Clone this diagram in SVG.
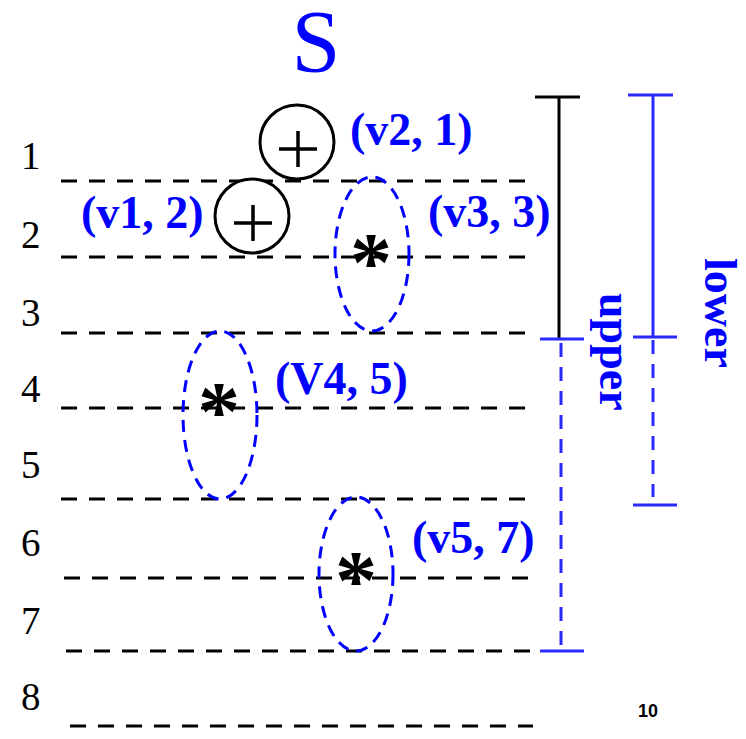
<svg xmlns="http://www.w3.org/2000/svg" width="746" height="739" viewBox="0 0 746 739">
<style>
.row{stroke:#000;stroke-width:3;stroke-dasharray:16 12;fill:none}
.ser{font-family:"Liberation Serif","Times New Roman",Times,"DejaVu Serif",serif}
.num{font-size:39px;fill:#000}
.lbl{font-size:46px;font-weight:bold;fill:#0000ff}
.ell{fill:none;stroke:#0000ff;stroke-width:3;stroke-dasharray:12 8}
.circ{fill:#fff;stroke:#000;stroke-width:3}
.plus{stroke:#000;stroke-width:3.5;fill:none}
.ast{font-size:84px;font-weight:bold;fill:#000;text-anchor:middle}
.bar{stroke:#2a2aff;stroke-width:3;fill:none}
.bard{stroke:#2a2aff;stroke-width:3;fill:none;stroke-dasharray:14 10}
</style>
<rect width="746" height="739" fill="#fff"/>
<text class="ser" x="316" y="71" font-size="88" fill="#0000ff" text-anchor="middle">S</text>
<g id="rows">
<line class="row" x1="61" y1="181" x2="527" y2="181"/>
<line class="row" x1="61" y1="257" x2="525" y2="257"/>
<line class="row" x1="61" y1="333" x2="525" y2="333"/>
<line class="row" x1="61" y1="408" x2="525" y2="408"/>
<line class="row" x1="61" y1="499" x2="525" y2="499"/>
<line class="row" x1="64" y1="578" x2="528" y2="578"/>
<line class="row" x1="66" y1="651" x2="530" y2="651"/>
<line class="row" x1="70" y1="726" x2="533" y2="726"/>
</g>
<g id="numbers" class="ser">
<text class="num" x="21" y="169">1</text>
<text class="num" x="21" y="248">2</text>
<text class="num" x="21" y="326">3</text>
<text class="num" x="21" y="402">4</text>
<text class="num" x="21" y="478">5</text>
<text class="num" x="21" y="556">6</text>
<text class="num" x="21" y="634">7</text>
<text class="num" x="21" y="710">8</text>
</g>
<g id="v2">
<circle class="circ" cx="297" cy="142" r="37"/>
<path class="plus" d="M279 149H317M298 131V167"/>
<text class="ser lbl" x="350" y="145">(v2, 1)</text>
</g>
<g id="v1">
<circle class="circ" cx="252" cy="216" r="37"/>
<path class="plus" d="M234 223H272M253 205V241"/>
<text class="ser lbl" x="81" y="228">(v1, 2)</text>
</g>
<g id="v3">
<ellipse class="ell" cx="372" cy="254" rx="37" ry="77"/>
<text class="ser ast" x="371" y="291">*</text>
<text class="ser lbl" x="428" y="227">(v3, 3)</text>
</g>
<g id="V4">
<ellipse class="ell" cx="220" cy="415" rx="37" ry="84"/>
<text class="ser ast" x="219" y="440">*</text>
<text class="ser lbl" x="275" y="394">(V4, 5)</text>
</g>
<g id="v5">
<ellipse class="ell" cx="356" cy="574" rx="37" ry="77"/>
<text class="ser ast" x="356" y="609">*</text>
<text class="ser lbl" x="412" y="553">(v5, 7)</text>
</g>
<g id="upper">
<path d="M535 97H580M559 97V339" stroke="#000" stroke-width="3" fill="none"/>
<path class="bar" d="M540 339H584M540 651H584"/>
<line class="bard" x1="561" y1="343" x2="561" y2="645"/>
<text class="ser lbl" transform="translate(600,293) rotate(90)">upper</text>
</g>
<g id="lower">
<path class="bar" d="M628 95H673M653 95V337M633 337H677M633 505H677"/>
<line class="bard" x1="653" y1="340" x2="653" y2="497"/>
<text class="ser lbl" transform="translate(705,258) rotate(90)">lower</text>
</g>
<text x="638" y="717" font-family="Liberation Sans,Arial,sans-serif" font-size="18" font-weight="bold" fill="#000">10</text>
</svg>
